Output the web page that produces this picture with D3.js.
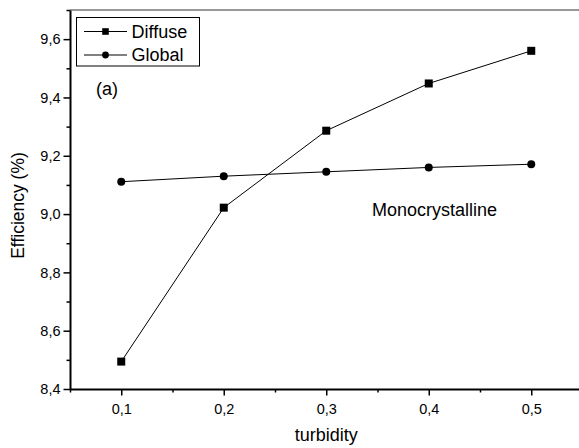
<!DOCTYPE html>
<html>
<head>
<meta charset="utf-8">
<script src="https://cdn.jsdelivr.net/npm/d3@7"></script>
<style>
  html, body { margin: 0; padding: 0; background: #fff; }
  svg { display: block; font-family: "Liberation Sans", Arial, sans-serif; }
</style>
</head>
<body>
<svg id="chart" width="579" height="448"></svg>
<script>
// Turbidity values on the x axis
const turbidity = [0.1, 0.2, 0.3, 0.4, 0.5];
// Efficiency (%) of the monocrystalline module
const diffuse = [8.494, 9.022, 9.286, 9.448, 9.560];
const global = [9.111, 9.130, 9.145, 9.160, 9.171];
const seriesNames = ["Diffuse", "Global"];
const xTicks = [0.1, 0.2, 0.3, 0.4, 0.5];
const xMinorTicks = [0.05, 0.15, 0.25, 0.35, 0.45, 0.55];
const yTicks = [8.4, 8.6, 8.8, 9.0, 9.2, 9.4, 9.6];
const yMinorTicks = [8.5, 8.7, 8.9, 9.1, 9.3, 9.5, 9.7];

const svg = d3.select("#chart");
const plotLeft = 70, plotTop = 10, plotBottom = 389, plotRight = 582.5;

const x = d3.scaleLinear().domain([0.05, 0.55]).range([plotLeft, plotRight]);
const y = d3.scaleLinear().domain([8.4, 9.7]).range([plotBottom, plotTop]);
const fmt = d => d3.format(".1f")(d).replace(".", ",");

// top frame line
svg.append("line")
  .attr("x1", plotLeft).attr("x2", plotRight)
  .attr("y1", plotTop).attr("y2", plotTop)
  .attr("stroke", "#333").attr("stroke-width", 1.2);

// minor ticks
svg.append("g").attr("transform", `translate(0,${plotBottom})`)
  .call(d3.axisBottom(x).tickValues(xMinorTicks).tickSize(3.5).tickFormat(""))
  .call(g => g.select(".domain").remove())
  .selectAll("line").attr("stroke-width", 1.5);
svg.append("g").attr("transform", `translate(${plotLeft},0)`)
  .call(d3.axisLeft(y).tickValues(yMinorTicks).tickSize(3.5).tickFormat(""))
  .call(g => g.select(".domain").remove())
  .selectAll("line").attr("stroke-width", 1.5);

// major axes
const xAxis = svg.append("g").attr("transform", `translate(0,${plotBottom})`)
  .call(d3.axisBottom(x).tickValues(xTicks).tickSizeInner(6.5).tickSizeOuter(0).tickPadding(8).tickFormat(fmt));
xAxis.select(".domain").attr("stroke-width", 2);
xAxis.selectAll(".tick line").attr("stroke-width", 1.5);
xAxis.selectAll("text").attr("font-size", 14.5).attr("fill", "#000")
  .attr("font-family", "Liberation Sans, Arial, sans-serif");

const yAxis = svg.append("g").attr("transform", `translate(${plotLeft},0)`)
  .call(d3.axisLeft(y).tickValues(yTicks).tickSizeInner(6.5).tickSizeOuter(0).tickPadding(3).tickFormat(fmt));
yAxis.select(".domain").attr("stroke-width", 2);
yAxis.selectAll(".tick line").attr("stroke-width", 1.5);
yAxis.selectAll("text").attr("font-size", 14.5).attr("fill", "#000")
  .attr("font-family", "Liberation Sans, Arial, sans-serif");

// axis titles
svg.append("text")
  .attr("x", (plotLeft + plotRight) / 2).attr("y", 441)
  .attr("text-anchor", "middle").attr("font-size", 18)
  .text("turbidity");
svg.append("text")
  .attr("transform", `translate(24,${(plotTop + plotBottom) / 2 + 6}) rotate(-90)`)
  .attr("text-anchor", "middle").attr("font-size", 17.5)
  .text("Efficiency (%)");

// series
const line = d3.line().x((d, i) => x(turbidity[i])).y(d => y(d));
[diffuse, global].forEach(vals => {
  svg.append("path").datum(vals)
    .attr("d", line).attr("fill", "none")
    .attr("stroke", "#000").attr("stroke-width", 1);
});
svg.append("g").selectAll("rect").data(diffuse).join("rect")
  .attr("x", (d, i) => x(turbidity[i]) - 4)
  .attr("y", d => y(d) - 4)
  .attr("width", 8).attr("height", 8).attr("fill", "#000");
svg.append("g").selectAll("circle").data(global).join("circle")
  .attr("cx", (d, i) => x(turbidity[i]))
  .attr("cy", d => y(d))
  .attr("r", 4).attr("fill", "#000");

// annotations
svg.append("text").attr("x", 96).attr("y", 95).attr("font-size", 18).text("(a)");
svg.append("text").attr("x", 372).attr("y", 216).attr("font-size", 18).text("Monocrystalline");

// legend
const lg = svg.append("g");
lg.append("rect").attr("x", 76.5).attr("y", 17.5).attr("width", 123).attr("height", 48.5)
  .attr("fill", "#fff").attr("stroke", "#000").attr("stroke-width", 1);
const rows = [31.5, 55];
seriesNames.forEach((name, i) => {
  const cy = rows[i];
  lg.append("line").attr("x1", 84).attr("x2", 127).attr("y1", cy).attr("y2", cy)
    .attr("stroke", "#000").attr("stroke-width", 1);
  if (i === 0) {
    lg.append("rect").attr("x", 105.5 - 3.3).attr("y", cy - 3.3)
      .attr("width", 6.6).attr("height", 6.6).attr("fill", "#000");
  } else {
    lg.append("circle").attr("cx", 105.5).attr("cy", cy).attr("r", 3.4).attr("fill", "#000");
  }
  lg.append("text").attr("x", 131.5).attr("y", cy + 6.3).attr("font-size", 18).text(name);
});
</script>
</body>
</html>
